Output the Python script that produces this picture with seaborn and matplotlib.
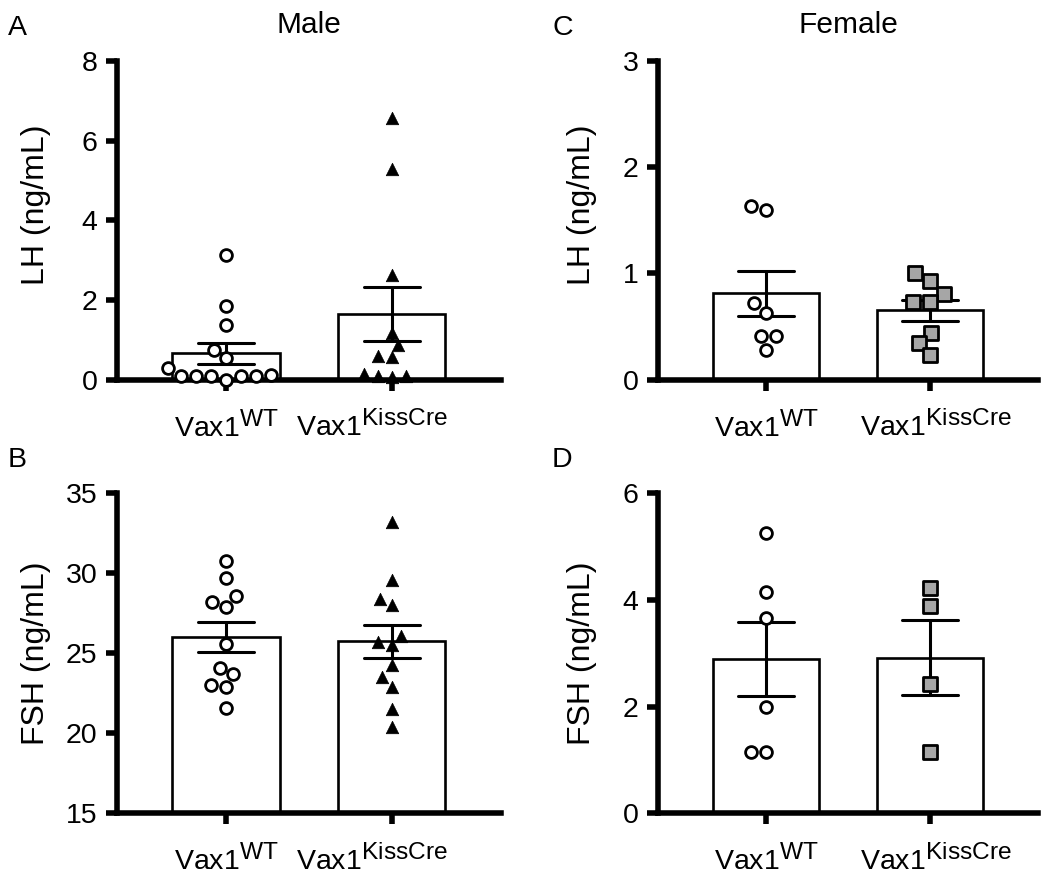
import numpy as np
import pandas as pd
import matplotlib
matplotlib.use("Agg")
import matplotlib.pyplot as plt
import matplotlib.transforms as mtransforms
import matplotlib._mathtext as mathtext_internal
import seaborn as sns

# ============================================================
# DATA
# ============================================================
groups = ["WT", "KissCre"]
group_labels = [r"Vax1$^{WT}$", r"Vax1$^{KissCre}$"]

male_lh_wt = [3.12, 1.84, 1.36, 0.75, 0.53, 0.30, 0.10, 0.10, 0.12, 0.0, 0.10, 0.10, 0.10]
male_lh_kc = [6.58, 5.28, 2.62, 1.17, 0.86, 0.56, 0.60, 0.06, 0.14, 0.10, 0.10]
male_fsh_wt = [30.8, 29.7, 28.6, 28.2, 27.9, 25.6, 23.7, 24.1, 22.9, 23.0, 21.6]
male_fsh_kc = [33.2, 29.6, 28.4, 28.0, 26.1, 25.5, 25.7, 24.3, 23.5, 22.9, 21.5, 20.4]
female_lh_wt = [1.63, 1.60, 0.72, 0.63, 0.41, 0.41, 0.28]
female_lh_kc = [0.93, 1.00, 0.81, 0.73, 0.73, 0.44, 0.34, 0.23]
female_fsh_wt = [5.25, 4.15, 3.66, 1.99, 1.15, 1.15]
female_fsh_kc = [4.22, 3.89, 2.43, 1.15]

sns.set_theme(style="ticks")
plt.rcParams["font.family"] = ["Liberation Sans", "DejaVu Sans"]
plt.rcParams["mathtext.fontset"] = "custom"
plt.rcParams["mathtext.rm"] = "Liberation Sans"
plt.rcParams["mathtext.it"] = "Liberation Sans"
plt.rcParams["mathtext.default"] = "regular"
plt.rcParams["text.color"] = "black"
plt.rcParams["axes.labelcolor"] = "black"
plt.rcParams["xtick.color"] = "black"
plt.rcParams["ytick.color"] = "black"
# superscripts a bit larger than mathtext's default 0.7
mathtext_internal.SHRINK_FACTOR = 0.86

FS_TICK = 20.5
FS_LABEL = 23
FS_TITLE = 21.5
FS_LETTER = 20.5

fig = plt.figure(figsize=(10.5, 8.82), dpi=100)

panels = [
    # letter, title, ylabel, wt, kc, ylim, yticks, kc style, rect, label y
    ("A", "Male", "LH (ng/mL)", male_lh_wt, male_lh_kc, (0, 8), [0, 2, 4, 6, 8], "tri",
     [0.1114, 0.5697, 0.3657, 0.3611], 0.55),
    ("B", None, "FSH (ng/mL)", male_fsh_wt, male_fsh_kc, (15, 35), [15, 20, 25, 30, 35], "tri",
     [0.1114, 0.0778, 0.3657, 0.3628], 0.50),
    ("C", "Female", "LH (ng/mL)", female_lh_wt, female_lh_kc, (0, 3), [0, 1, 2, 3], "sq",
     [0.6267, 0.5697, 0.3619, 0.3611], 0.55),
    ("D", None, "FSH (ng/mL)", female_fsh_wt, female_fsh_kc, (0, 6), [0, 2, 4, 6], "sq",
     [0.6267, 0.0778, 0.3619, 0.3628], 0.50),
]

for letter, title, ylabel, wt, kc, ylim, yticks, style, rect, label_y in panels:
    ax = fig.add_axes(rect)
    left_col = rect[0] < 0.5
    df = pd.DataFrame({
        "group": ["WT"] * len(wt) + ["KissCre"] * len(kc),
        "value": wt + kc,
    })

    sns.barplot(data=df, x="group", y="value", order=groups, ax=ax,
                color="white", edgecolor="black", linewidth=1.9, width=0.645,
                errorbar="se", capsize=0.34,
                err_kws={"color": "black", "linewidth": 2.2})

    sns.swarmplot(data=df[df.group == "WT"], x="group", y="value", order=groups, ax=ax,
                  color="white", edgecolor="black", linewidth=2, size=8.5, marker="o")
    if style == "tri":
        sns.swarmplot(data=df[df.group == "KissCre"], x="group", y="value", order=groups,
                      ax=ax, color="black", edgecolor="black", linewidth=0.5, size=9,
                      marker="^")
    else:
        sns.swarmplot(data=df[df.group == "KissCre"], x="group", y="value", order=groups,
                      ax=ax, color="#a6a6a6", edgecolor="black", linewidth=2, size=9.5,
                      marker="s")
    for coll in ax.collections:
        coll.set_clip_on(False)

    ax.set_ylim(*ylim)
    ax.set_yticks(yticks)
    ax.set_xlim(-0.657, 1.657)
    ax.set_xticks([0, 1])
    ax.set_xticklabels(group_labels)
    ax.set_xlabel("")
    ax.set_ylabel(ylabel, fontsize=FS_LABEL)
    ax.yaxis.set_label_coords(-0.172 if left_col else -0.16, label_y)
    sns.despine(ax=ax)
    for side in ["left", "bottom"]:
        ax.spines[side].set_linewidth(4)
        ax.spines[side].set_color("black")
    ax.tick_params(axis="both", width=4, length=8, labelsize=FS_TICK, color="black")
    ax.tick_params(axis="y", pad=6)
    ax.tick_params(axis="x", pad=14.5)
    if title:
        ax.set_title(title, fontsize=FS_TITLE, pad=20)

    # the KissCre label sits a little off-centre in the original
    dx = -0.2 if left_col else 0.06
    kc_label = ax.get_xticklabels()[1]
    kc_label.set_transform(kc_label.get_transform()
                           + mtransforms.ScaledTranslation(dx, 0, fig.dpi_scale_trans))

    x0 = 8 / 1050 if left_col else 552 / 1050
    y0 = rect[1] + rect[3] + 0.0295
    fig.text(x0, y0, letter, fontsize=FS_LETTER, va="baseline", ha="left")

fig.savefig("out.png", dpi=100, facecolor="white")
